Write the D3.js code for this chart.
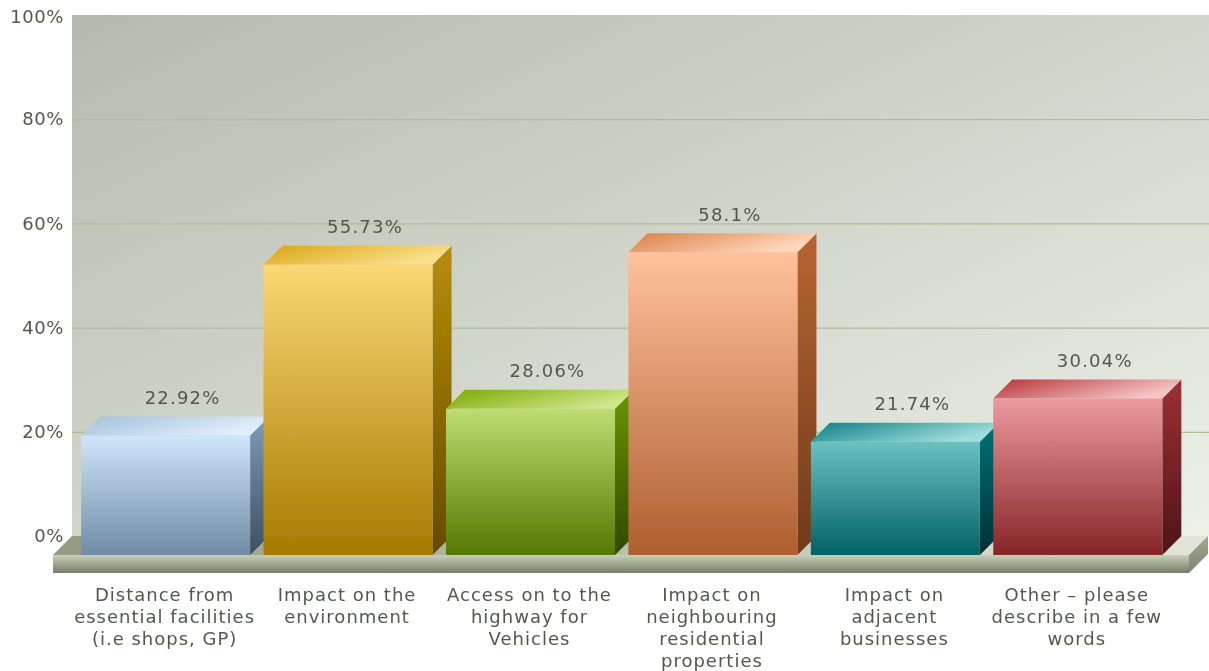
<!DOCTYPE html>
<html>
<head>
<meta charset="utf-8">
<script src="https://cdn.jsdelivr.net/npm/d3@7"></script>
<style>
  body { margin: 0; background: #fff; }
  svg { display: block; }
  text { font-family: "DejaVu Sans", sans-serif; font-size: 18px; fill: #52584c; }
</style>
</head>
<body>
<script>
var categories = [
  'Distance from essential facilities (i.e shops, GP)',
  'Impact on the environment',
  'Access on to the highway for Vehicles',
  'Impact on neighbouring residential properties',
  'Impact on adjacent businesses',
  'Other - please describe in a few words'
];
var categoryLines = [
  ['Distance from', 'essential facilities', '(i.e shops, GP)'],
  ['Impact on the', 'environment'],
  ['Access on to the', 'highway for', 'Vehicles'],
  ['Impact on', 'neighbouring', 'residential', 'properties'],
  ['Impact on', 'adjacent', 'businesses'],
  ['Other \u2013 please', 'describe in a few', 'words']
];
var values = [22.92, 55.73, 28.06, 58.1, 21.74, 30.04];
var valueLabels = ['22.92%', '55.73%', '28.06%', '58.1%', '21.74%', '30.04%'];
var yTicks = [0, 20, 40, 60, 80, 100];

// front, top and side colours for every bar
var frontColors = [['#cfe5fa', '#6f8ba6'], ['#fcd874', '#a67a00'], ['#bedd72', '#567800'], ['#ffc19c', '#ae5f30'], ['#6cc0c0', '#006266'], ['#ec9a9e', '#862528']];
var topColors = [['#a3c0da', '#e0eefb'], ['#d9a412', '#fbe08c'], ['#7aa800', '#cfe68a'], ['#d97f45', '#ffd8bc'], ['#0e8086', '#a0dcdc'], ['#b83236', '#f4c4c6']];
var sideColors = [['#7f9cb8', '#3c4f60'], ['#b88d08', '#664a00'], ['#6a9600', '#2f4800'], ['#b86530', '#6e3a1c'], ['#007276', '#002f33'], ['#9c3034', '#4e1416']];

var w = 1209;
var h = 671;
var depth = 19;
var wallLeft = 72;
var wallRight = 1209;

var svg = d3.select('body').append('svg')
  .attr('width', w)
  .attr('height', h);

var defs = svg.append('defs');

function gradient(id, x2, y2, stops) {
  var g = defs.append('linearGradient')
    .attr('id', id)
    .attr('x1', 0).attr('y1', 0)
    .attr('x2', x2).attr('y2', y2);
  stops.forEach(function (c, i) {
    g.append('stop').attr('offset', i / (stops.length - 1)).attr('stop-color', c);
  });
}

gradient('wall', 1, 1, ['#b5baaf', '#d2d5ca', '#ecf0e8']);
gradient('floorFront', 0, 1, ['#c9cfb8', '#767d68']);
gradient('floorTop', 1, 0, ['#959b82', '#e2e6da']);
gradient('floorSide', 0, 1, ['#a3a98f', '#7d8470']);
frontColors.forEach(function (c, i) { gradient('front' + i, 0, 1, c); });
topColors.forEach(function (c, i) { gradient('top' + i, 1, 0.4, c); });
sideColors.forEach(function (c, i) { gradient('side' + i, 0, 1, c); });

// the image is a little soft, like an enlarged screenshot
var soft = defs.append('filter').attr('id', 'soft');
soft.append('feGaussianBlur').attr('stdDeviation', 0.35);

var root = svg.append('g').attr('filter', 'url(#soft)');

var yScale = d3.scaleLinear().domain([0, 100]).range([536, 15]);
var xScale = d3.scaleBand()
  .domain(categories)
  .range([74.4, 1169])
  .paddingInner(0.0735)
  .paddingOuter(0.0367);

// back wall
root.append('rect')
  .attr('x', wallLeft)
  .attr('y', yScale(100))
  .attr('width', wallRight - wallLeft)
  .attr('height', yScale(0) - yScale(100))
  .attr('fill', 'url(#wall)');

// y axis with the grid lines
var yAxis = d3.axisLeft(yScale)
  .tickValues(yTicks)
  .tickFormat(function (d) { return d + '%'; })
  .tickSize(-(wallRight - wallLeft))
  .tickPadding(8);

var yG = root.append('g')
  .attr('transform', 'translate(' + wallLeft + ',0)')
  .call(yAxis);
yG.select('.domain').remove();
yG.selectAll('line').attr('stroke', '#aebd98').attr('stroke-width', 1.2);
yG.selectAll('.tick').filter(function (d) { return d === 0 || d === 100; }).select('line').remove();
yG.selectAll('text').attr('fill', null).style('font-size', '18px').style('letter-spacing', '0.6px');
// top label sits a little lower than its tick in the chart
yG.selectAll('.tick').filter(function (d) { return d === 100; }).select('text').attr('y', 2);

// floor
var fy = yScale(0) + depth;
var fx0 = wallLeft - depth;
var fx1 = wallRight - depth - 1;
root.append('path')
  .attr('d', d3.line()([[fx0, fy], [wallLeft, yScale(0)], [fx1 + depth, yScale(0)], [fx1, fy]]) + 'Z')
  .attr('fill', 'url(#floorTop)');
root.append('rect')
  .attr('x', fx0).attr('y', fy)
  .attr('width', fx1 - fx0).attr('height', 18)
  .attr('fill', 'url(#floorFront)');
root.append('path')
  .attr('d', d3.line()([[fx1, fy], [fx1 + depth, fy - depth], [fx1 + depth, fy - depth + 18], [fx1, fy + 18]]) + 'Z')
  .attr('fill', 'url(#floorSide)');

// bars, front plane sits depth px lower and left of the wall
var bars = root.selectAll('.bar')
  .data(categories)
  .enter()
  .append('g')
  .attr('class', 'bar');

bars.append('path')
  .attr('d', function (d, i) {
    var x1 = xScale(d) + xScale.bandwidth();
    var yTop = yScale(values[i]) + depth;
    return d3.line()([[x1, yTop], [x1 + depth, yTop - depth], [x1 + depth, fy - depth], [x1, fy]]) + 'Z';
  })
  .attr('fill', function (d, i) { return 'url(#side' + i + ')'; });

bars.append('path')
  .attr('d', function (d, i) {
    var x0 = xScale(d);
    var x1 = x0 + xScale.bandwidth();
    var yTop = yScale(values[i]) + depth;
    return d3.line()([[x0, yTop], [x0 + depth, yTop - depth], [x1 + depth, yTop - depth], [x1, yTop]]) + 'Z';
  })
  .attr('fill', function (d, i) { return 'url(#top' + i + ')'; });

bars.append('rect')
  .attr('x', function (d) { return xScale(d); })
  .attr('y', function (d, i) { return yScale(values[i]) + depth; })
  .attr('width', xScale.bandwidth())
  .attr('height', function (d, i) { return yScale(0) - yScale(values[i]); })
  .attr('fill', function (d, i) { return 'url(#front' + i + ')'; });

bars.append('text')
  .attr('x', function (d) { return xScale(d) + xScale.bandwidth() / 2 + 17; })
  .attr('y', function (d, i) { return yScale(values[i]) - 19; })
  .attr('dy', '0.35em')
  .attr('text-anchor', 'middle')
  .style('letter-spacing', '1.2px')
  .text(function (d, i) { return valueLabels[i]; });

// category labels, wrapped by hand as in the chart
var xAxis = d3.axisBottom(xScale).tickSize(0).tickFormat('');
var xG = root.append('g')
  .attr('transform', 'translate(-1,' + (fy + 18) + ')')
  .call(xAxis);
xG.select('.domain').remove();
xG.selectAll('.tick text').each(function (d, i) {
  var t = d3.select(this).attr('y', 0).attr('dy', null).attr('fill', null).style('font-size', '18px').style('letter-spacing', '1px');
  categoryLines[i].forEach(function (line, k) {
    t.append('tspan')
      .attr('x', 0)
      .attr('y', 28 + k * 22)
      .text(line);
  });
});
</script>
</body>
</html>
